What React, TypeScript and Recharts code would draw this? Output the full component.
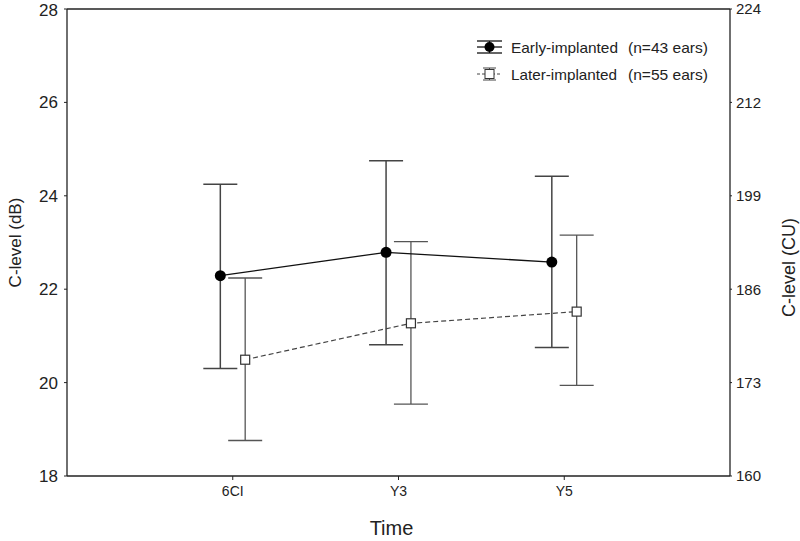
import React from 'react';
import {
  ComposedChart, Scatter, XAxis, YAxis, ErrorBar, ReferenceLine, Label,
} from 'recharts';

const timeLabels = ['6CI', 'Y3', 'Y5'];
const earlyMean = [22.29, 22.79, 22.58];
const earlyLow = [20.3, 20.81, 20.75];
const earlyHigh = [24.25, 24.75, 24.42];
const laterMean = [20.49, 21.27, 21.52];
const laterLow = [18.76, 19.54, 19.94];
const laterHigh = [22.24, 23.02, 23.16];
const leftTicks = [18, 20, 22, 24, 26, 28];
const rightTickLabels = ['160', '173', '186', '199', '212', '224'];
const xTicks = [1, 2, 3];
const dodge = 0.075;

const earlyData = timeLabels.map((t, i) => ({
  x: i + 1 - dodge,
  y: earlyMean[i],
  err: [earlyMean[i] - earlyLow[i], earlyHigh[i] - earlyMean[i]],
}));
const laterData = timeLabels.map((t, i) => ({
  x: i + 1 + dodge,
  y: laterMean[i],
  err: [laterMean[i] - laterLow[i], laterHigh[i] - laterMean[i]],
}));

const FONT = 'Arial, "Liberation Sans", sans-serif';

const EarlyShape = (p: any) => <circle cx={p.cx} cy={p.cy} r={5.5} fill="#000" />;
const LaterShape = (p: any) => (
  <rect x={p.cx - 4.5} y={p.cy - 4.5} width={9} height={9} fill="#fff" stroke="#333" strokeWidth={1.2} />
);
const NoShape = () => <g />;

const LegendBox = () => (
  <svg width={260} height={60} style={{ position: 'absolute', left: 475, top: 36, fontFamily: FONT }}>
    <g>
      <line x1={2} x2={27} y1={5} y2={5} stroke="#111" strokeWidth={1.3} />
      <line x1={2} x2={27} y1={17} y2={17} stroke="#111" strokeWidth={1.3} />
      <line x1={2} x2={27} y1={11} y2={11} stroke="#111" strokeWidth={1.3} />
      <line x1={14.5} x2={14.5} y1={5} y2={17} stroke="#111" strokeWidth={1.3} />
      <circle cx={14.5} cy={11} r={5} fill="#000" />
      <text x={36} y={16.5} fontSize={15} fill="#222" textLength={107} lengthAdjust="spacingAndGlyphs">Early-implanted</text>
      <text x={153} y={16.5} fontSize={15} fill="#222" textLength={80} lengthAdjust="spacingAndGlyphs">(n=43 ears)</text>
    </g>
    <g>
      <line x1={8} x2={21} y1={32} y2={32} stroke="#444" strokeWidth={1} />
      <line x1={8} x2={21} y1={44} y2={44} stroke="#444" strokeWidth={1} />
      <line x1={2} x2={27} y1={38} y2={38} stroke="#444" strokeWidth={1} strokeDasharray="3 2" />
      <line x1={14.5} x2={14.5} y1={32} y2={44} stroke="#444" strokeWidth={1} />
      <rect x={10} y={33.5} width={9} height={9} fill="#fff" stroke="#333" strokeWidth={1} />
      <text x={36} y={43.5} fontSize={15} fill="#222" textLength={106} lengthAdjust="spacingAndGlyphs">Later-implanted</text>
      <text x={153} y={43.5} fontSize={15} fill="#222" textLength={80} lengthAdjust="spacingAndGlyphs">(n=55 ears)</text>
    </g>
  </svg>
);

export default function App() {
  return (
    <div style={{ position: 'fixed', left: 0, top: 0, width: 800, height: 541, background: '#fff' }}>
      <ComposedChart
        width={800}
        height={541}
        margin={{ top: 9, right: 0, bottom: 0, left: 0 }}
      >
        <XAxis
          type="number"
          dataKey="x"
          domain={[0, 4]}
          ticks={xTicks}
          tickFormatter={(v: number) => timeLabels[Math.round(v) - 1]}
          height={65}
          axisLine={{ stroke: '#222', strokeWidth: 1.3 }}
          tickLine={{ stroke: '#222' }}
          tickSize={4}
          tickMargin={6}
          tick={{ fill: '#222', fontSize: 14, fontFamily: '"Liberation Sans Narrow", Arial, sans-serif' }}
        >
          <Label
            content={({ viewBox }: any) => (
              <text
                x={viewBox.x + viewBox.width / 2 - 7}
                y={viewBox.y + 59}
                textAnchor="middle"
                fontSize={20}
                fontFamily={FONT}
                fill="#222"
              >
                Time
              </text>
            )}
          />
        </XAxis>
        <YAxis
          yAxisId="left"
          dataKey="y"
          type="number"
          domain={[18, 28]}
          ticks={leftTicks}
          width={67}
          axisLine={{ stroke: '#222', strokeWidth: 1.3 }}
          tickLine={{ stroke: '#222' }}
          tickSize={3}
          tickMargin={6}
          tick={{ fill: '#222', fontSize: 17, fontFamily: FONT }}
        >
          <Label
            content={({ viewBox }: any) => (
              <text
                x={15}
                y={viewBox.y + viewBox.height / 2}
                transform={`rotate(-90, 15, ${viewBox.y + viewBox.height / 2})`}
                textAnchor="middle"
                dominantBaseline="central"
                fontSize={17}
                fontFamily={FONT}
                fill="#222"
              >
                C-level (dB)
              </text>
            )}
          />
        </YAxis>
        <YAxis
          yAxisId="right"
          dataKey="y"
          orientation="right"
          type="number"
          domain={[18, 28]}
          ticks={leftTicks}
          tickFormatter={(v: number) => rightTickLabels[leftTicks.indexOf(Math.round(v))]}
          width={70}
          axisLine={{ stroke: '#222', strokeWidth: 1.3 }}
          tickLine={{ stroke: '#222' }}
          tickSize={2}
          tickMargin={4}
          tick={{ fill: '#222', fontSize: 15, fontFamily: FONT }}
        >
          <Label
            content={({ viewBox }: any) => {
              const cy = viewBox.y + viewBox.height / 2 + 25;
              return (
                <text
                  x={789}
                  y={cy}
                  transform={`rotate(-90, 789, ${cy})`}
                  textAnchor="middle"
                  dominantBaseline="central"
                  fontSize={18}
                  fontFamily={FONT}
                  fill="#222"
                >
                  C-level (CU)
                </text>
              );
            }}
          />
        </YAxis>
        <ReferenceLine yAxisId="left" y={28} stroke="#222" strokeWidth={1.3} />
        <Scatter
          yAxisId="right"
          data={earlyData}
          dataKey="y"
          isAnimationActive={false}
          shape={NoShape}
          legendType="none"
        />
        <Scatter
          yAxisId="left"
          data={earlyData}
          dataKey="y"
          isAnimationActive={false}
          line={{ stroke: '#111', strokeWidth: 1.3 }}
          lineType="joint"
          shape={EarlyShape}
        >
          <ErrorBar dataKey="err" direction="y" width={17} stroke="#444" strokeWidth={1.5} isAnimationActive={false} />
        </Scatter>
        <Scatter
          yAxisId="left"
          data={laterData}
          dataKey="y"
          isAnimationActive={false}
          line={{ stroke: '#444', strokeWidth: 1.2, strokeDasharray: '5 3' }}
          lineType="joint"
          shape={LaterShape}
        >
          <ErrorBar dataKey="err" direction="y" width={17} stroke="#555" strokeWidth={1.3} isAnimationActive={false} />
        </Scatter>
      </ComposedChart>
      <LegendBox />
    </div>
  );
}
